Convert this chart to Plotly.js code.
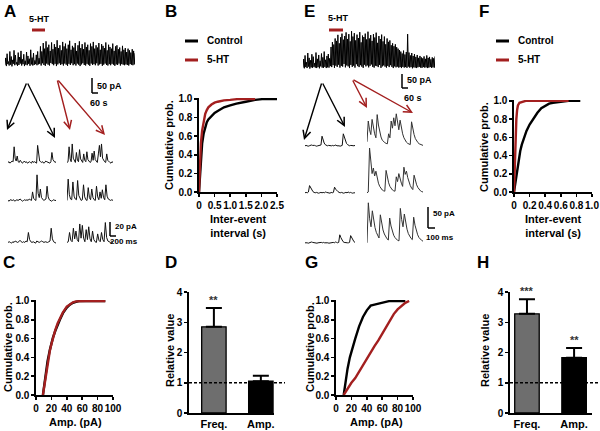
<!DOCTYPE html>
<html><head><meta charset="utf-8">
<script src="https://cdn.plot.ly/plotly-3.0.1.min.js"></script>
<style>html,body{margin:0;padding:0;background:#fff}#chart{width:600px;height:431px}</style>
</head><body><div id="chart"></div>
<script>
// ---------------- DATA ----------------
// Panel B: inter-event interval cumulative probability
const bCtrlX = [0, 0.03, 0.06, 0.1, 0.15, 0.2, 0.25, 0.3, 0.4, 0.5, 0.6, 0.8, 1.0, 1.2, 1.5, 1.8, 2.1, 2.5];
const bCtrlY = [0, 0.2, 0.38, 0.52, 0.63, 0.7, 0.75, 0.78, 0.82, 0.85, 0.87, 0.91, 0.93, 0.95, 0.97, 0.99, 1.0, 1.0];
const bHtX = [0, 0.03, 0.06, 0.1, 0.15, 0.2, 0.25, 0.3, 0.4, 0.5, 0.6, 0.8, 1.0, 1.3, 1.8];
const bHtY = [0, 0.3, 0.52, 0.66, 0.77, 0.84, 0.88, 0.91, 0.94, 0.96, 0.97, 0.985, 0.99, 1.0, 1.0];
// Panel F
const fCtrlX = [0, 0.02, 0.04, 0.06, 0.08, 0.1, 0.13, 0.16, 0.2, 0.25, 0.3, 0.35, 0.4, 0.45, 0.5, 0.6, 0.7, 0.85];
const fCtrlY = [0, 0.12, 0.25, 0.36, 0.45, 0.52, 0.6, 0.67, 0.74, 0.81, 0.87, 0.92, 0.95, 0.97, 0.98, 0.99, 1.0, 1.0];
const fHtX = [0, 0.01, 0.02, 0.03, 0.04, 0.05, 0.07, 0.1, 0.15, 0.3, 0.5, 0.7];
const fHtY = [0, 0.35, 0.62, 0.8, 0.9, 0.95, 0.98, 0.99, 1.0, 1.0, 1.0, 1.0];
// Panel C: amplitude cumulative probability
const cCtrlX = [9, 11, 13, 15, 18, 20, 22, 25, 28, 31, 35, 40, 44, 48, 52, 57, 65, 75, 90];
const cCtrlY = [0, 0.12, 0.25, 0.36, 0.48, 0.55, 0.61, 0.68, 0.75, 0.8, 0.87, 0.93, 0.96, 0.98, 0.99, 1.0, 1.0, 1.0, 1.0];
const cHtX = [9, 11, 13, 15, 18, 20, 22, 25, 28, 31, 35, 40, 44, 48, 52, 57, 65, 75, 90];
const cHtY = [0, 0.11, 0.24, 0.35, 0.47, 0.54, 0.61, 0.69, 0.76, 0.81, 0.88, 0.94, 0.965, 0.985, 0.995, 1.0, 1.0, 1.0, 1.0];
// Panel G
const gCtrlX = [10, 12, 15, 18, 21, 25, 30, 35, 40, 45, 50, 55, 60, 65, 70, 80, 90];
const gCtrlY = [0, 0.12, 0.28, 0.4, 0.5, 0.6, 0.73, 0.83, 0.9, 0.95, 0.96, 0.97, 0.98, 0.99, 1.0, 1.0, 1.0];
const gHtX = [10, 15, 20, 25, 30, 35, 40, 45, 50, 55, 60, 65, 70, 75, 80, 85, 90, 95];
const gHtY = [0, 0.07, 0.13, 0.18, 0.25, 0.32, 0.38, 0.45, 0.52, 0.58, 0.65, 0.73, 0.8, 0.86, 0.91, 0.95, 0.98, 1.0];
// Panels D and H: relative values
const barCats = ['Freq.', 'Amp.'];
const dVals = [2.85, 1.05];
const dErr = [0.62, 0.18];
const hVals = [3.28, 1.83];
const hErr = [0.48, 0.32];
const dStars = ['**', ''];
const hStars = ['***', '**'];
// Tick labels
const cumTicks = [0, 0.2, 0.4, 0.6, 0.8, 1.0];
const cumTickText = ['0.0', '0.2', '0.4', '0.6', '0.8', '1.0'];
const bTicks = [0, 0.5, 1.0, 1.5, 2.0, 2.5];
const bTickText = ['0', '0.5', '1.0', '1.5', '2.0', '2.5'];
const fTicks = [0, 0.2, 0.4, 0.6, 0.8, 1.0];
const fTickText = ['0', '0.2', '0.4', '0.6', '0.8', '1.0'];
const ampTicks = [0, 20, 40, 60, 80, 100];
const relTicks = [0, 1, 2, 3, 4];
// Recordings (pA, baseline 0, inward events upward)
const aLong = [0,25,-4,40,3,12,-2,48,1,30,-5,18,4,52,-1,35,2,10,-3,44,0,28,5,50,-2,20,3,38,-4,15,1,46,-1,32,4,22,-3,54,2,26,-2,42,0,16,3,36,-1,48,2,24,
 4,66,-2,48,6,78,0,58,-3,84,5,62,1,72,-2,50,7,80,3,56,-1,74,4,64,-4,88,2,60,6,70,0,52,3,82,-2,66,5,76,1,58,-3,72,4,86,0,54,6,68,-1,62,3,78,-2,50,5,70,1,84,-4,60,2,74,6,56,0,80,-2,64,4,72,1,52,-3,76,5,66,0,82,3,58,-1,70,6,62,-2,78,2,54,4,74,-3,68,1,60,5,80,0,52,-2,72,3,64,-1,58,4,76,1,50,-3,66,2,70,0,56,5,62,-2,48,3,68,1,54,-1,60,2,46,0,58,-2,52,3,44,1,56,-1,50,2,42];
const aR1C1 = [0,1,-1,0,2,1,22,6,2,9,1,0,3,1,-1,0,2,0,1,-1,0,1,0,-1,2,0,1,0,-1,24,7,2,1,0,1,-1,0,2,1,0,0,-1,1,14,4,1,0,1];
const aR1C2 = [0,1,22,5,1,26,6,2,0,14,3,1,18,5,1,0,12,3,1,15,4,2,0,1,13,3,16,4,1,0,12,24,8,26,6,2,1,0,12,3,1,0,-1,1,0];
const aR2C1 = [0,-1,1,0,0,1,-1,0,1,0,1,2,0,-1,0,1,0,1,0,2,1,0,12,3,1,0,36,10,4,16,4,1,0,1,2,20,5,1,0,-1,0,1,0,0];
const aR2C2 = [0,30,8,2,1,26,6,2,1,28,7,2,0,1,22,5,1,0,18,4,1,16,4,1,0,20,5,1,12,3,15,4,1,22,6,2,1,0,1,0];
const aR3C1 = [0,1,0,-1,1,0,2,1,0,1,3,1,0,1,0,2,1,14,4,1,0,1,0,-1,2,1,0,1,2,1,0,1,0,0,1,2,20,5,1,0,-1];
const aR3C2 = [0,1,14,3,1,20,5,16,4,1,26,6,24,6,1,18,4,22,5,1,16,4,1,0,12,3,1,14,4,1,28,7,2,1,0,1,0];
const eLong = [0,35,-3,50,2,22,-2,60,4,40,-4,30,1,55,-1,45,3,18,0,62,-2,36,2,52,-3,28,5,58,0,42,-1,66,3,32,-2,48,1,56,0,38,
 6,85,2,105,10,95,-1,120,8,110,3,135,12,100,0,125,7,140,4,115,15,130,1,145,9,118,5,138,-2,108,11,150,3,128,8,142,0,112,14,136,6,122,2,146,10,104,4,132,-1,126,12,140,5,116,9,148,1,120,7,134,13,110,3,138,0,124,8,144,6,102,2,130,11,118,-1,136,5,108,9,128,4,96,0,120,7,106,2,112,10,92,3,100,-2,88,5,96,1,84,4,78,0,72,
 2,66,-2,58,3,70,0,54,2,64,-1,138,4,62,0,50,2,60,-3,48,1,56,0,44,-2,52,1,40,3,48,0,42,-1,38,2,46,0,36,1,50,-2,40,0,44,2,34,-1,42,1,38,0,46];
const eR1C1 = [0,1,0,-1,0,1,2,1,0,1,0,-1,0,1,0,2,24,14,7,3,1,0,1,0,-1,0,1,0,1,2,0,1,0,-1,0,1,30,20,11,6,3,1,0,1,0,-1,0,1];
const eR1C2 = [10,62,40,28,66,45,30,20,78,52,34,22,14,10,8,6,5,30,20,62,44,70,50,80,56,40,64,44,30,20,14,9,6,4,3,60,42,28,18,12,8,5,3,2,1];
const eR2C1 = [0,1,0,2,18,12,6,3,1,0,1,0,-1,0,1,0,1,0,2,1,0,0,-1,1,0,1,14,9,5,3,1,0,1,0,-1,0,1,0,2,0,1,0,-1,0,0];
const eR2C2 = [0,2,112,70,48,62,42,54,36,24,16,10,7,5,4,56,38,25,16,10,7,5,4,40,28,48,34,24,16,64,46,54,38,26,18,12,8,44,30,20,13,8,5,3,2];
const eR3C1 = [0,1,0,-1,0,1,2,1,0,1,0,-1,0,1,2,1,0,1,0,0,1,0,-1,0,1,0,1,0,2,1,0,1,20,13,7,3,1,0,1,0,0,1,18,12,6,3,1];
const eR3C2 = [0,100,60,40,80,55,38,26,18,12,70,48,32,22,15,10,7,62,42,28,19,13,9,6,5,86,58,40,72,50,34,23,16,11,8,64,44,30,20,13,9,6,4];

// ---------------- LAYOUT ----------------
const W = 600, H = 431;
const RED = '#a31f1f';
const FONT = 'Liberation Sans, Arial, sans-serif';
const px = x => x / W, py = y => 1 - y / H;
const layout = {width: W, height: H, margin: {l: 0, r: 0, t: 0, b: 0}, paper_bgcolor: '#fff', plot_bgcolor: 'rgba(0,0,0,0)',
  showlegend: false, shapes: [], annotations: [], font: {family: FONT, color: '#000'}, bargap: 0};
const traces = [];
const key = n => n === 1 ? '' : String(n);
function setAxes(n, xd, yd, xo, yo) {
  const k = key(n);
  layout['xaxis' + k] = Object.assign({domain: [px(xd[0]), px(xd[1])], anchor: 'y' + k}, xo);
  layout['yaxis' + k] = Object.assign({domain: [py(yd[1]), py(yd[0])], anchor: 'x' + k}, yo);
}
function plotAx(extra) {
  return Object.assign({showline: true, linecolor: '#000', linewidth: 1.6, ticks: 'outside', ticklen: 3, tickwidth: 1.5, tickcolor: '#000',
    showgrid: false, zeroline: false, fixedrange: true, tickangle: 0,
    tickfont: {family: FONT, size: 10, weight: 'bold', color: '#000'}}, extra);
}
const hid = r => ({visible: false, fixedrange: true, range: r, showgrid: false, zeroline: false});
function curve(n, x, y, color) {
  const k = key(n);
  traces.push({x: x, y: y, xaxis: 'x' + k, yaxis: 'y' + k, mode: 'lines', line: {color: color, width: 2.4}, hoverinfo: 'skip'});
}
function sweep(n, xd, yd, yr, y, color, w) {
  setAxes(n, xd, yd, hid([0, y.length - 1]), hid(yr));
  const k = key(n);
  traces.push({y: y, xaxis: 'x' + k, yaxis: 'y' + k, mode: 'lines', line: {color: color || '#111', width: w || 1}, hoverinfo: 'skip'});
}
function text(x, y, t, size, opts) {
  layout.annotations.push(Object.assign({xref: 'paper', yref: 'paper', x: px(x), y: py(y), text: t, showarrow: false,
    xanchor: 'center', yanchor: 'middle',
    font: {family: FONT, size: size, weight: 'bold', color: '#000'}}, opts || {}));
}
function seg(x0, y0, x1, y1, color, width, dash) {
  layout.shapes.push({type: 'line', xref: 'paper', yref: 'paper', x0: px(x0), y0: py(y0), x1: px(x1), y1: py(y1),
    line: {color: color, width: width, dash: dash || 'solid'}});
}
function arrow(ax0, ay0, tx, ty, color) {
  layout.annotations.push({xref: 'paper', yref: 'paper', x: px(tx), y: py(ty), ax: ax0 - tx, ay: ay0 - ty, text: '',
    showarrow: true, arrowhead: 5, arrowsize: 1.1, arrowwidth: 1.4, arrowcolor: color});
}

// Panel B
setAxes(1, [199, 277], [98, 192], plotAx({range: [0, 2.5], tickvals: bTicks, ticktext: bTickText}),
  plotAx({range: [0, 1.01], tickvals: cumTicks, ticktext: cumTickText}));
curve(1, bCtrlX, bCtrlY, '#000'); curve(1, bHtX, bHtY, RED);
// Panel C
setAxes(2, [36, 113], [300, 395], plotAx({range: [0, 100], tickvals: ampTicks}),
  plotAx({range: [0, 1.01], tickvals: cumTicks, ticktext: cumTickText}));
curve(2, cCtrlX, cCtrlY, '#000'); curve(2, cHtX, cHtY, RED);
// Panel F
setAxes(4, [514, 592], [100, 192], plotAx({range: [0, 1.0], tickvals: fTicks, ticktext: fTickText}),
  plotAx({range: [0, 1.01], tickvals: cumTicks, ticktext: cumTickText}));
curve(4, fCtrlX, fCtrlY, '#000'); curve(4, fHtX, fHtY, RED);
// Panel G
setAxes(5, [336, 413], [300, 395], plotAx({range: [0, 100], tickvals: ampTicks}),
  plotAx({range: [0, 1.01], tickvals: cumTicks, ticktext: cumTickText}));
curve(5, gCtrlX, gCtrlY, '#000'); curve(5, gHtX, gHtY, RED);
// Panels D and H (bars)
function bars(n, xd, xr, vals, err, stars, dashEnd) {
  const k = key(n);
  setAxes(n, xd, [292, 413], plotAx({type: 'category', range: xr, ticks: '', tickfont: {family: FONT, size: 11, weight: 'bold', color: '#000'}}),
    plotAx({range: [0, 4], tickvals: relTicks}));
  traces.push({type: 'bar', x: barCats, y: vals, xaxis: 'x' + k, yaxis: 'y' + k, width: 0.52, hoverinfo: 'skip',
    marker: {color: ['#6e6e6e', '#000'], line: {color: '#000', width: 1.3}},
    error_y: {type: 'data', symmetric: false, array: err, arrayminus: [0, 0], color: '#000', thickness: 2, width: 8}});
  layout.shapes.push({type: 'line', xref: 'paper', yref: 'y' + k, x0: px(xd[0]), x1: px(dashEnd), y0: 1, y1: 1,
    line: {color: '#000', width: 1.4, dash: '3px,2px'}});
  barCats.forEach((c, i) => {
    if (stars[i]) layout.annotations.push({xref: 'x' + k, yref: 'y' + k, x: i, y: vals[i] + err[i], text: stars[i], showarrow: false,
      xanchor: 'center', yanchor: 'bottom', yshift: 0, font: {family: FONT, size: 11, weight: 'bold', color: '#333'}});
  });
}
bars(3, [189, 274], [-0.53, 1.28], dVals, dErr, dStars, 285);
bars(6, [510, 592], [-0.36, 1.38], hVals, hErr, hStars, 598);

// Recordings A
sweep(7, [5, 135], [38, 70], [-18, 96], aLong, '#000', 1);
sweep(8, [8, 56], [134, 166], [-5, 40], aR1C1);
sweep(9, [67, 113], [134, 166], [-5, 40], aR1C2);
sweep(10, [8, 56], [172, 204], [-5, 40], aR2C1);
sweep(11, [67, 113], [172, 204], [-5, 40], aR2C2);
sweep(12, [8, 56], [214, 246], [-5, 40], aR3C1);
sweep(13, [67, 113], [214, 246], [-5, 40], aR3C2);
// Recordings E
sweep(14, [303, 435], [30, 70], [-10, 155], eLong, '#000', 1);
sweep(15, [305, 355], [109, 149], [-8, 92], eR1C1);
sweep(16, [367, 423], [109, 149], [-8, 92], eR1C2, '#333');
sweep(17, [305, 355], [140, 196], [-8, 132], eR2C1);
sweep(18, [367, 423], [140, 196], [-8, 132], eR2C2, '#333');
sweep(19, [305, 355], [200, 246], [-8, 107], eR3C1);
sweep(20, [367, 423], [200, 246], [-8, 107], eR3C2, '#333');

// Panel letters
[['A', 10, 12], ['B', 171, 12], ['E', 309, 12], ['F', 484, 12], ['C', 9, 262], ['D', 171, 262], ['G', 311, 262], ['H', 483, 262]]
  .forEach(l => text(l[1], l[2], l[0], 17));
// Axis titles
const ytitle = (x, y, t) => text(x, y, t, 11, {textangle: -90});
ytitle(169, 145, 'Cumulative prob.'); ytitle(484, 147, 'Cumulative prob.');
ytitle(8, 347, 'Cumulative prob.'); ytitle(310, 347, 'Cumulative prob.');
ytitle(170, 351, 'Relative value'); ytitle(485, 351, 'Relative value');
text(238, 226, 'Inter-event<br>interval (s)', 11);
text(553, 226, 'Inter-event<br>interval (s)', 11);
text(75, 422, 'Amp. (pA)', 11); text(376, 422, 'Amp. (pA)', 11);
// Legends
seg(185, 41, 198, 41, '#000', 3); seg(185, 60, 198, 60, RED, 3);
text(205, 41, 'Control', 10, {xanchor: 'left'}); text(205, 60, '5-HT', 10, {xanchor: 'left'});
seg(496, 41, 509, 41, '#000', 3); seg(496, 60, 509, 60, RED, 3);
text(516, 41, 'Control', 10, {xanchor: 'left'}); text(516, 60, '5-HT', 10, {xanchor: 'left'});
// 5-HT application bars
text(39, 19, '5-HT', 9); seg(32, 30, 45, 30, RED, 3);
text(338, 18, '5-HT', 9); seg(329, 30, 343, 30, RED, 3);
// Scale bars
seg(92, 78, 92, 93, '#000', 1.5); seg(92, 93, 98, 93, '#000', 1.5);
text(95, 86, '50 pA', 9, {xanchor: 'left'}); text(88, 103, '60 s', 9, {xanchor: 'left'});
seg(110, 222, 110, 236, '#000', 1.5); seg(110, 236, 116, 236, '#000', 1.5);
text(113, 226, '20 pA', 8, {xanchor: 'left'}); text(108, 241, '200 ms', 8, {xanchor: 'left'});
seg(402, 74, 402, 88, '#000', 1.5); seg(402, 88, 408, 88, '#000', 1.5);
text(405, 80, '50 pA', 9, {xanchor: 'left'}); text(402, 98, '60 s', 9, {xanchor: 'left'});
seg(428, 207, 428, 228, '#000', 1.5); seg(428, 228, 435, 228, '#000', 1.5);
text(431, 214, '50 pA', 8, {xanchor: 'left'}); text(424, 237, '100 ms', 8, {xanchor: 'left'});
// Arrows
arrow(27, 82, 7, 130, '#000'); arrow(27, 82, 55, 138, '#000');
arrow(57, 79, 70, 130, RED); arrow(57, 79, 105, 135, RED);
arrow(322, 82, 304, 140, '#000'); arrow(322, 82, 345, 127, '#000');
arrow(352, 79, 367, 108, RED); arrow(352, 79, 413, 113, RED);

Plotly.newPlot('chart', traces, layout, {staticPlot: true, displayModeBar: false});
</script></body></html>
